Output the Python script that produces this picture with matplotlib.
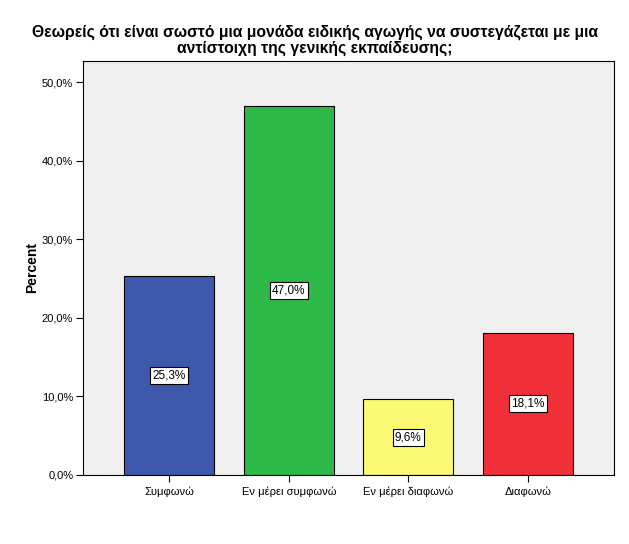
import matplotlib
matplotlib.use("Agg")
import matplotlib.pyplot as plt
from matplotlib.ticker import FuncFormatter

categories = ["Συμφωνώ", "Εν μέρει συμφωνώ", "Εν μέρει διαφωνώ", "Διαφωνώ"]
values = [25.3, 47.0, 9.6, 18.1]
colors = ["#3E58AC", "#2EB848", "#FBF873", "#EF3038"]
title = "Θεωρείς ότι είναι σωστό μια μονάδα ειδικής αγωγής να συστεγάζεται με μια\nαντίστοιχη της γενικής εκπαίδευσης;"

plt.rcParams['font.family'] = ['Liberation Sans', 'DejaVu Sans']

fig = plt.figure(figsize=(6.29, 5.44), dpi=100)
ax = fig.add_axes([0.132, 0.127, 0.844, 0.761])
ax.set_facecolor("#F0F0F0")

x = list(range(len(categories)))
bars = ax.bar(x, values, width=0.753, color=colors, edgecolor="black", linewidth=0.8, zorder=2)
for xi, v in zip(x, values):
    ax.text(xi, v / 2, f"{v:.1f}%".replace(".", ","), ha="center", va="center", fontsize=8.5,
            bbox=dict(boxstyle="square,pad=0.2", facecolor="white", edgecolor="black", linewidth=0.8),
            zorder=3)

ax.set_xlim(-0.722, 3.72)
ax.set_ylim(0, 52.7)
ax.set_yticks([0, 10, 20, 30, 40, 50])
ax.yaxis.set_major_formatter(FuncFormatter(lambda v, p: f"{v:.1f}%".replace(".", ",")))
ax.set_xticks(x)
ax.set_xticklabels(categories)
ax.tick_params(axis="both", labelsize=8, length=5, width=0.8, direction="out")
ax.tick_params(axis="y", pad=2)
ax.tick_params(axis="x", pad=3)
for s in ax.spines.values():
    s.set_linewidth(0.8)
ax.set_ylabel("Percent", fontsize=10, fontweight="bold", labelpad=2)
fig.suptitle(title, fontsize=11.3, fontweight="bold", y=0.955, linespacing=1.05)

fig.savefig("out.png", dpi=100)
